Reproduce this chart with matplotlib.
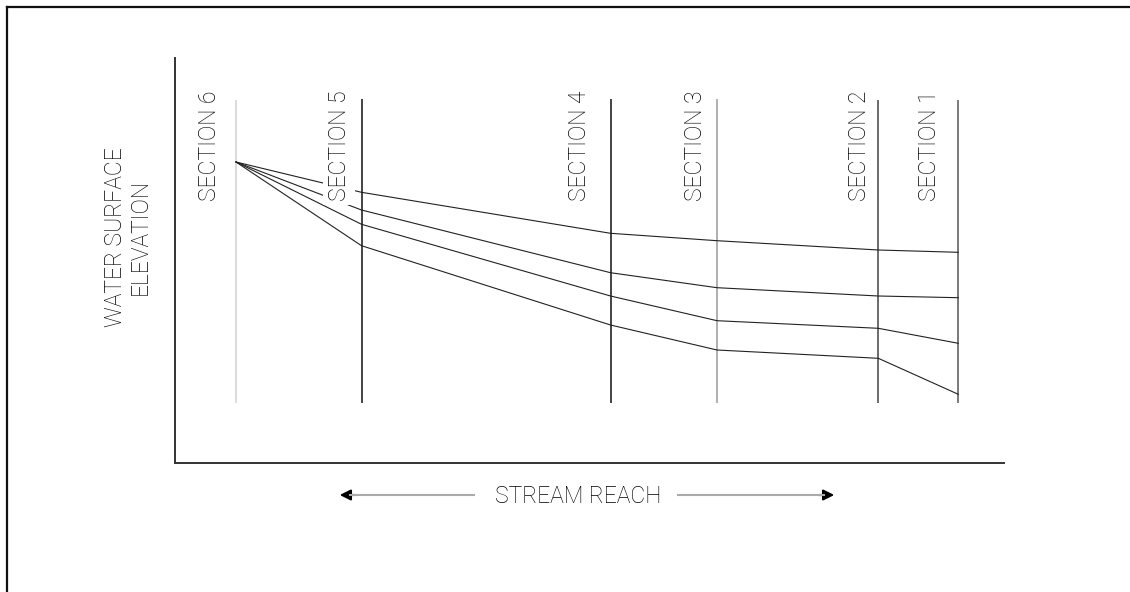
import matplotlib.pyplot as plt
from matplotlib.lines import Line2D

# sections along the reach (left = upstream)
sections = ["SECTION 6", "SECTION 5", "SECTION 4", "SECTION 3", "SECTION 2", "SECTION 1"]
station = [61, 186.5, 435.5, 542, 703.3, 783.3]

# water surface profiles, elevation at each section (all meet at section 6)
profile_1 = [301, 270.7, 229.7, 222.3, 213, 210.7]
profile_2 = [301, 253, 190.3, 175.3, 167, 165.3]
profile_3 = [301, 238.7, 167, 142.3, 134.7, 119.7]
profile_4 = [301, 217.3, 138, 113, 104.7, 68.7]

# layout
sec_top = [363, 364, 364, 364, 363, 363]
sec_bottom = 60
sec_color = ["#d2d2d2", "#111111", "#111111", "#9a9a9a", "#444444", "#555555"]
label_x = [34, 164, 405, 521, 684, 755]
label_bottom = 262

W, H = 1130, 592
fig = plt.figure(figsize=(W / 100, H / 100), dpi=100)
ax = fig.add_axes([175 / W, 1 - 463 / H, (1004 - 175) / W, (463 - 58) / H])
ax.set_xlim(0, 829)
ax.set_ylim(0, 405)
ax.set_xticks([])
ax.set_yticks([])
for s in ["top", "right"]:
    ax.spines[s].set_visible(False)
for s in ["left", "bottom"]:
    ax.spines[s].set_color("#333333")
    ax.spines[s].set_linewidth(1.4)

font = dict(family=["Roboto", "DejaVu Sans"], weight="light", size=16.5, color="#000000")

for i in range(len(sections)):
    ax.vlines(station[i], sec_bottom, sec_top[i], color=sec_color[i], lw=1.1, zorder=2)
    ax.text(label_x[i], label_bottom, sections[i], rotation=90, ha="center", va="bottom",
            zorder=5, bbox=dict(facecolor="white", edgecolor="none", pad=3), **font)

for p in [profile_1, profile_2, profile_3, profile_4]:
    ax.plot(station, p, color="#222222", lw=0.8, zorder=3)

fig.text(128 / W, 1 - 237 / H, "WATER SURFACE\nELEVATION", rotation=90, ha="center", va="center",
         multialignment="center", linespacing=1.1, **font)

fig.text(578 / W, 1 - 496 / H, "STREAM REACH", ha="center", va="center", **font)

# arrows under the reach label
fig.add_artist(Line2D([350 / W, 474 / W], [1 - 495 / H, 1 - 495 / H], color="#aaaaaa", lw=1.5))
fig.add_artist(Line2D([678 / W, 824 / W], [1 - 495 / H, 1 - 495 / H], color="#aaaaaa", lw=1.5))
ax.annotate("", xy=(337, H - 495), xytext=(358, H - 495), xycoords="figure pixels",
            textcoords="figure pixels",
            arrowprops=dict(arrowstyle="-|>", color="black", lw=1.5, mutation_scale=16))
ax.annotate("", xy=(837, H - 495), xytext=(816, H - 495), xycoords="figure pixels",
            textcoords="figure pixels",
            arrowprops=dict(arrowstyle="-|>", color="black", lw=1.5, mutation_scale=16))

# page frame (top and left edges)
fig.add_artist(Line2D([6.5 / W, 1], [1 - 7 / H, 1 - 7 / H], color="#111111", lw=1.6))
fig.add_artist(Line2D([6.5 / W, 6.5 / W], [0, 1 - 7 / H], color="#111111", lw=1.6))

fig.savefig("out.png", dpi=100)
